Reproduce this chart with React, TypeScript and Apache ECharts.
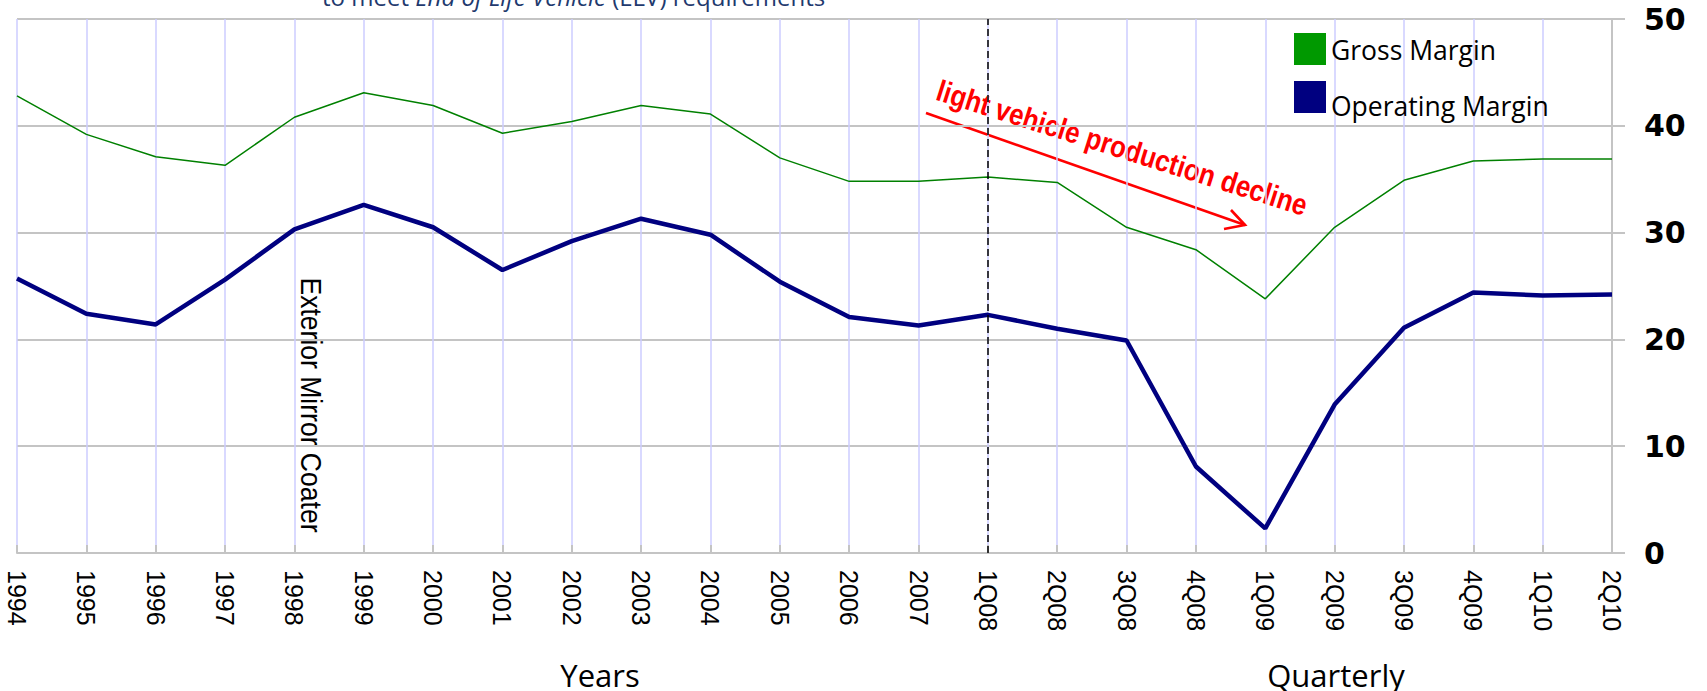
import React, { useEffect, useRef } from "react";
import * as echarts from "echarts";

const categories = [
  "1994", "1995", "1996", "1997", "1998", "1999", "2000", "2001", "2002", "2003",
  "2004", "2005", "2006", "2007", "1Q08", "2Q08", "3Q08", "4Q08", "1Q09", "2Q09",
  "3Q09", "4Q09", "1Q10", "2Q10",
];
const grossMargin = [
  42.8, 39.2, 37.1, 36.3, 40.8, 43.1, 41.9, 39.3, 40.4, 41.9,
  41.1, 37.0, 34.8, 34.8, 35.2, 34.7, 30.5, 28.4, 23.8, 30.5,
  34.9, 36.7, 36.9, 36.9,
];
const operatingMargin = [
  25.7, 22.4, 21.4, 25.6, 30.3, 32.6, 30.5, 26.5, 29.2, 31.3,
  29.8, 25.4, 22.1, 21.3, 22.3, 21.0, 19.9, 8.1, 2.3, 13.9,
  21.1, 24.4, 24.1, 24.2,
];
const seriesNames = ["Gross Margin", "Operating Margin"];
const dividerCategory = "1Q08";
const yTicks = { min: 0, max: 50, interval: 10 };

export default function App() {
  const ref = useRef<HTMLDivElement>(null);
  useEffect(() => {
    if (!ref.current) return;
    const chart = echarts.init(ref.current, undefined, { renderer: "svg" });
    const gray = "#c4c4c4";
    chart.setOption({
      animation: false,
      backgroundColor: "#ffffff",
      grid: { left: 17, right: 95, top: 19, bottom: 138, outerBoundsMode: "none" },
      legend: {
        orient: "vertical",
        left: 1294,
        top: 33,
        padding: 0,
        itemGap: 16,
        itemWidth: 32,
        itemHeight: 32,
        icon: "rect",
        data: seriesNames,
        formatter: (name: string) => (name === seriesNames[1] ? `{lo|${name}}` : `{hi|${name}}`),
        textStyle: {
          fontFamily: "Open Sans",
          fontSize: 26.5,
          color: "#000",
          rich: {
            hi: { fontFamily: "Open Sans", fontSize: 26.5, color: "#000", padding: [2, 0, 0, 0] },
            lo: { fontFamily: "Open Sans", fontSize: 26.5, color: "#000", padding: [17, 0, 0, 0] },
          },
        },
      },
      xAxis: {
        type: "category",
        data: categories,
        boundaryGap: false,
        axisLine: { show: true, lineStyle: { color: gray, width: 2 } },
        axisTick: { show: true, inside: true, length: 8, lineStyle: { color: gray, width: 2 } },
        splitLine: { show: true, lineStyle: { color: "#ccccff", width: 1.5 } },
        axisLabel: {
          rotate: -90,
          margin: 17,
          fontFamily: "Liberation Sans",
          fontSize: 25,
          color: "#000",
        },
      },
      yAxis: {
        type: "value",
        position: "right",
        min: yTicks.min,
        max: yTicks.max,
        interval: yTicks.interval,
        axisLine: { show: true, lineStyle: { color: gray, width: 2 } },
        axisTick: { show: true, length: 13, lineStyle: { color: gray, width: 2 } },
        splitLine: { show: true, lineStyle: { color: gray, width: 2 } },
        axisLabel: {
          margin: 32,
          fontFamily: "DejaVu Sans",
          fontWeight: "bold",
          fontSize: 30,
          color: "#000",
        },
      },
      series: [
        {
          name: seriesNames[0],
          type: "line",
          data: grossMargin,
          showSymbol: false,
          itemStyle: { color: "#009900" },
          lineStyle: { color: "#008000", width: 1.5 },
          z: 3,
          markLine: {
            silent: true,
            symbol: ["none", "none"],
            label: { show: false },
            lineStyle: { color: "#000", type: [7, 4], width: 1.5 },
            data: [{ xAxis: dividerCategory }],
          },
        },
        {
          name: seriesNames[1],
          type: "line",
          data: operatingMargin,
          showSymbol: false,
          itemStyle: { color: "#000080" },
          lineStyle: { color: "#000080", width: 4.5 },
          z: 4,
        },
      ],
      graphic: [
        {
          type: "text",
          x: 322,
          y: -4,
          style: {
            text: "{n|to meet }{i|End of Life Vehicle}{n| (ELV) requirements}",
            verticalAlign: "middle",
            rich: {
              n: { fontFamily: "Open Sans", fontSize: 24, fill: "#1f3a6e" },
              i: { fontFamily: "Open Sans", fontSize: 24, fontStyle: "italic", fill: "#1f3a6e" },
            },
          },
        },
        {
          type: "text",
          x: 311,
          y: 405,
          rotation: -Math.PI / 2,
          scaleX: 0.915,
          style: {
            text: "Exterior Mirror Coater",
            fontFamily: "Liberation Sans",
            fontSize: 29,
            fill: "#000",
            align: "center",
            verticalAlign: "middle",
          },
        },
        {
          type: "line",
          shape: { x1: 926, y1: 113, x2: 1245, y2: 225 },
          style: { stroke: "#ff0000", lineWidth: 2.6 },
        },
        {
          type: "polyline",
          shape: { points: [[1231, 210], [1245, 225], [1224, 229]] },
          style: { stroke: "#ff0000", lineWidth: 2.6, fill: "none" },
        },
        {
          type: "text",
          x: 1122,
          y: 148,
          rotation: (-17.5 * Math.PI) / 180,
          scaleX: 0.86,
          style: {
            text: "light vehicle production decline",
            fontFamily: "Liberation Sans",
            fontWeight: "bold",
            fontSize: 30,
            fill: "#ff0000",
            align: "center",
            verticalAlign: "middle",
          },
        },
        {
          type: "text",
          x: 600,
          y: 675,
          style: {
            text: "Years",
            fontFamily: "Open Sans",
            fontSize: 31,
            fill: "#000",
            align: "center",
            verticalAlign: "middle",
          },
        },
        {
          type: "text",
          x: 1336,
          y: 675,
          style: {
            text: "Quarterly",
            fontFamily: "Open Sans",
            fontSize: 31,
            fill: "#000",
            align: "center",
            verticalAlign: "middle",
          },
        },
      ],
    });
    return () => chart.dispose();
  }, []);
  return (
    <div
      ref={ref}
      style={{ position: "fixed", left: 0, top: 0, width: 1707, height: 691, background: "#fff" }}
    />
  );
}
